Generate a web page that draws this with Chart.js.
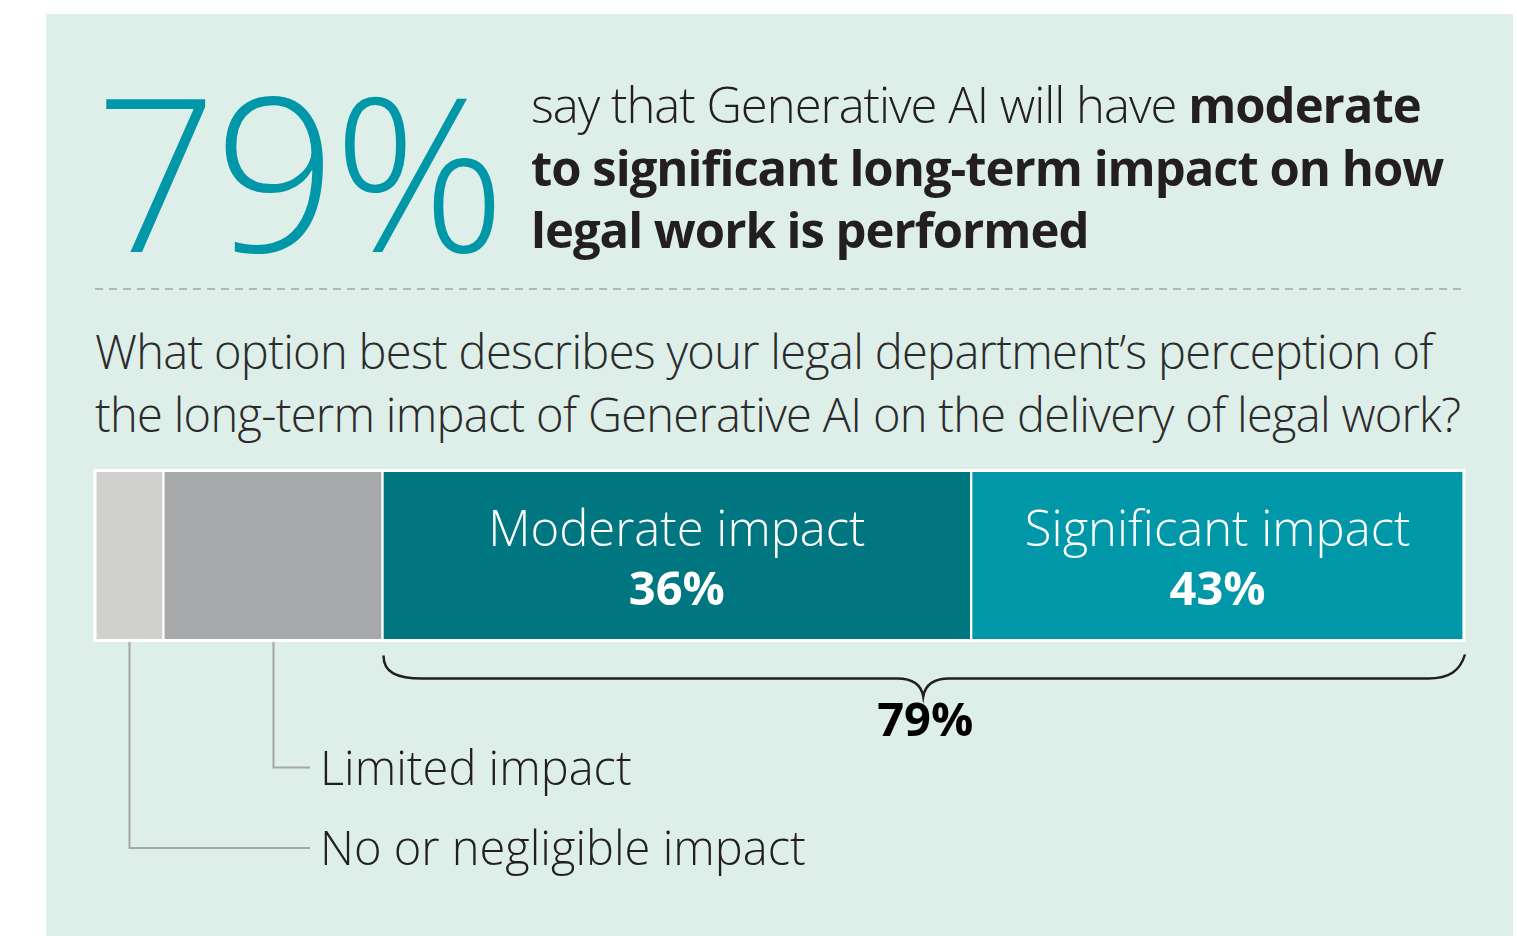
<!DOCTYPE html>
<html>
<head>
<meta charset="utf-8">
<title>Generative AI impact on legal work</title>
<script src="https://cdn.jsdelivr.net/npm/chart.js@4.4.1/dist/chart.umd.min.js"></script>
<style>
    html, body { margin: 0; padding: 0; background: #ffffff; }
    body { width: 1517px; height: 936px; position: relative; overflow: hidden; font-family: 'Open Sans', sans-serif; }
    #panel { position: absolute; left: 46px; top: 14px; width: 1467px; height: 922px; background: #deeee8; }
    #big { position: absolute; left: 95px; top: 62px; font-size: 214px; line-height: 214px; font-weight: 300; color: #0097a9; letter-spacing: -3px; white-space: nowrap; }
    #headline { position: absolute; left: 531px; top: 73px; font-size: 49px; line-height: 62.5px; font-weight: 300; color: #231f20; letter-spacing: -1px; white-space: nowrap; }
    #headline b { font-weight: 700; }
    #question { position: absolute; left: 95px; top: 320px; font-size: 47px; line-height: 63px; font-weight: 300; color: #2b2b2b; letter-spacing: -0.7px; white-space: nowrap; }
    #chart { position: absolute; left: 0; top: 0; }
</style>
</head>
<body>
<div id="panel"></div>
<div id="big">79%</div>
<div id="headline">say that Generative AI will have <b>moderate</b><br><b>to significant long-term impact on how</b><br><b>legal work is performed</b></div>
<div id="question">What option best describes your legal department’s perception of<br>the long-term impact of Generative AI on the delivery of legal work?</div>
<canvas id="chart" width="1517" height="936"></canvas>

<script>
// answer categories, left to right
const categories = ['No or negligible impact', 'Limited impact', 'Moderate impact', 'Significant impact'];
// segment lengths as drawn in the bar (share of the full width)
const barShares = [5, 16, 43, 36];
// percentages printed inside the bar
const valueLabels = ['', '', '36%', '43%'];
const braceLabel = '79%';

const segmentColors = ['#d0d0ce', '#a7a8aa', '#007680', '#0097a9'];

const annotations = {
    id: 'annotations',
    afterDraw(chart) {
        const ctx = chart.ctx;
        const x = chart.scales.x;
        const bars = chart.data.datasets.map((d, i) => chart.getDatasetMeta(i).data[0]);
        const top = bars[0].y - bars[0].height / 2;
        const bottom = bars[0].y + bars[0].height / 2;

        ctx.save();

        // dashed separator under the headline
        ctx.strokeStyle = '#b4b6b5';
        ctx.lineWidth = 2;
        ctx.setLineDash([8, 6]);
        ctx.beginPath();
        ctx.moveTo(x.left, 289);
        ctx.lineTo(x.right, 289);
        ctx.stroke();
        ctx.setLineDash([]);

        // white frame round the whole bar
        ctx.strokeStyle = '#ffffff';
        ctx.lineWidth = 3;
        ctx.strokeRect(x.left, top, x.right - x.left, bottom - top);

        // labels inside the big segments
        ctx.fillStyle = '#ffffff';
        ctx.textAlign = 'center';
        ctx.textBaseline = 'alphabetic';
        bars.forEach((bar, i) => {
            if (!valueLabels[i]) return;
            const cx = (bar.base + bar.x) / 2;
            ctx.font = '300 49px "Open Sans"';
            ctx.fillText(categories[i], cx, top + 75.5);
            ctx.font = '700 47px "Open Sans"';
            ctx.fillText(valueLabels[i], cx, top + 134.5);
        });

        // leader lines for the small segments
        const small = [];
        bars.forEach((bar, i) => { if (!valueLabels[i]) small.push(i); });
        const lineEnd = x.left + 215;
        ctx.strokeStyle = '#a5a6a6';
        ctx.lineWidth = 2;
        ctx.fillStyle = '#231f20';
        ctx.textAlign = 'left';
        ctx.font = '300 47px "Open Sans"';
        small.forEach((i, k) => {
            const bar = bars[i];
            const cx = Math.round((bar.base + bar.x) / 2) + 0.5;
            // the leftmost label sits lowest
            const ly = bottom + (k === 0 ? 207.5 : 127);
            ctx.beginPath();
            ctx.moveTo(cx, bottom + 1.5);
            ctx.lineTo(cx, ly);
            ctx.lineTo(lineEnd, ly);
            ctx.stroke();
            ctx.fillText(categories[i], lineEnd + 10, ly + 17);
        });

        // brace under the moderate + significant segments
        const first = valueLabels.findIndex(v => v);
        const x0 = bars[first].base;
        const x1 = bars[bars.length - 1].x;
        const mid = (x0 + x1) / 2;
        const y0 = bottom + 15;
        const yh = bottom + 38;
        const tip = bottom + 56;
        ctx.strokeStyle = '#231f20';
        ctx.lineWidth = 2.5;
        ctx.beginPath();
        ctx.moveTo(x0 + 1, y0);
        ctx.bezierCurveTo(x0 + 1, yh - 6, x0 + 14, yh, x0 + 40, yh);
        ctx.lineTo(mid - 26, yh);
        ctx.bezierCurveTo(mid - 10, yh, mid - 2, yh + 6, mid, tip);
        ctx.bezierCurveTo(mid + 2, yh + 6, mid + 10, yh, mid + 26, yh);
        ctx.lineTo(x1 - 36, yh);
        ctx.bezierCurveTo(x1 - 14, yh, x1 - 4, yh - 8, x1 + 1, y0 - 1);
        ctx.stroke();

        ctx.fillStyle = '#000000';
        ctx.textAlign = 'center';
        ctx.font = '700 47px "Open Sans"';
        ctx.fillText(braceLabel, mid + 2, tip + 39);

        ctx.restore();
    }
};

new Chart(document.getElementById('chart'), {
    type: 'bar',
    data: {
        labels: ['Impact'],
        datasets: categories.map((c, i) => ({
            label: c,
            data: [barShares[i]],
            backgroundColor: segmentColors[i],
            borderColor: '#ffffff',
            borderWidth: 1.5,
            borderSkipped: false,
            barThickness: 170
        }))
    },
    options: {
        indexAxis: 'y',
        responsive: false,
        animation: false,
        devicePixelRatio: 1,
        layout: { padding: { left: 95, right: 53, top: 440, bottom: 265 } },
        plugins: {
            legend: { display: false },
            tooltip: { enabled: false }
        },
        scales: {
            x: { stacked: true, min: 0, max: 100, display: false },
            y: { stacked: true, display: false }
        }
    },
    plugins: [annotations]
});
</script>
</body>
</html>
